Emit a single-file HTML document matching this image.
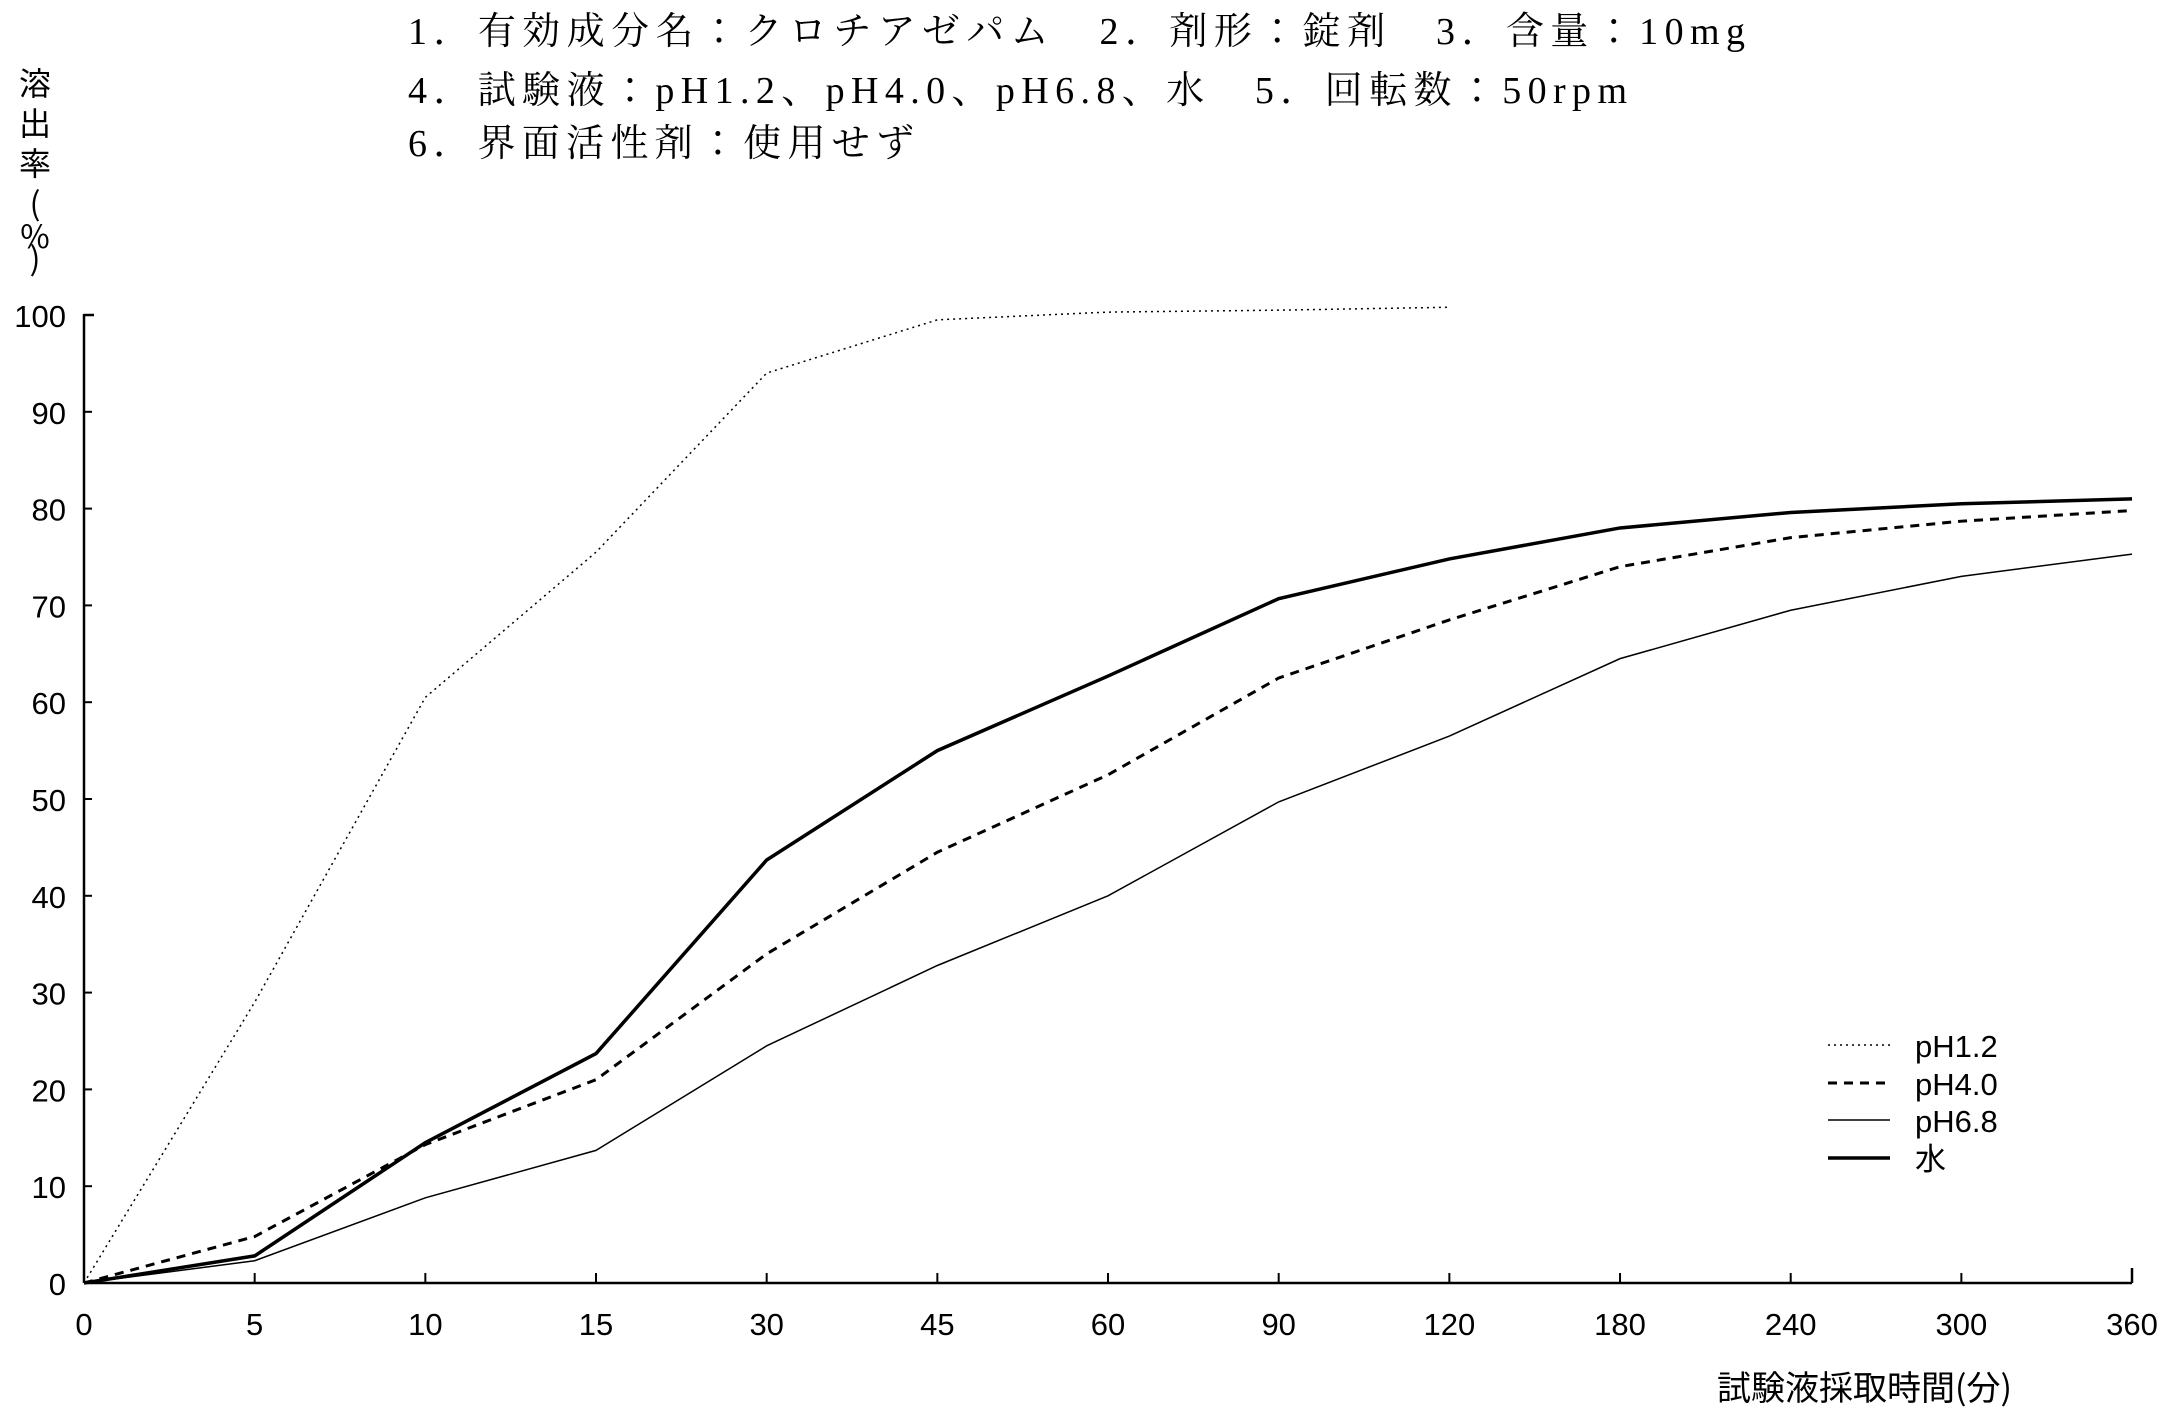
<!DOCTYPE html>
<html><head><meta charset="utf-8"><style>
html,body{margin:0;padding:0;background:#fff;}
svg{display:block}
.t{font-family:"Liberation Serif","Noto Serif CJK JP","Noto Serif CJK SC",serif;font-size:38px;fill:#000}
.a{font-family:"Liberation Sans","Noto Sans CJK JP",sans-serif;font-size:31px;fill:#000}
</style></head><body>
<svg width="2171" height="1417" viewBox="0 0 2171 1417" xmlns="http://www.w3.org/2000/svg">
<rect width="2171" height="1417" fill="#fff"/>
<text class="t" x="408" y="44" textLength="1337" lengthAdjust="spacing">1．有効成分名：クロチアゼパム　2．剤形：錠剤　3．含量：10mg</text>
<text class="t" x="408" y="103" textLength="1219" lengthAdjust="spacing">4．試験液：pH1.2、pH4.0、pH6.8、水　5．回転数：50rpm</text>
<text class="t" x="408" y="156" textLength="506" lengthAdjust="spacing">6．界面活性剤：使用せず</text>
<g class="a" text-anchor="middle">
<text x="35" y="95" style="font-family:'Noto Sans CJK JP',sans-serif;font-size:32px">溶</text>
<text x="35" y="135" style="font-family:'Noto Sans CJK JP',sans-serif;font-size:32px">出</text>
<text x="35" y="175" style="font-family:'Noto Sans CJK JP',sans-serif;font-size:32px">率</text>
<text x="35" y="215" style="font-family:'Noto Sans CJK JP',sans-serif;font-size:32px">(</text>
<text x="35" y="248" style="font-family:'Noto Sans CJK JP',sans-serif;font-size:32px">%</text>
<text x="35" y="270" style="font-family:'Noto Sans CJK JP',sans-serif;font-size:32px">)</text>
</g>
<g stroke="#000" stroke-width="2.5" fill="none">
<line x1="84" y1="314" x2="84" y2="1283"/>
<line x1="84" y1="315" x2="94" y2="315"/>
<line x1="84" y1="1283" x2="2132" y2="1283"/>
<line x1="2132" y1="1283" x2="2132" y2="1268"/>
</g>
<g stroke="#000" stroke-width="2" id="ticks"></g>
<g class="a" text-anchor="end" id="yl"></g>
<g class="a" text-anchor="middle" id="xl"></g>
<g fill="none" stroke="#000" id="series"></g>
<text class="a" x="1717" y="1400" style="font-family:'Noto Sans CJK JP',sans-serif;font-size:34px">試験液採取時間(分)</text>
<g stroke="#000">
<line x1="1828" y1="1045" x2="1890" y2="1045" stroke-width="1.5" stroke-dasharray="2,4"/>
<line x1="1828" y1="1083" x2="1890" y2="1083" stroke-width="3" stroke-dasharray="9,7"/>
<line x1="1828" y1="1120" x2="1890" y2="1120" stroke-width="1.5"/>
<line x1="1828" y1="1158" x2="1890" y2="1158" stroke-width="3.5"/>
</g>
<g class="a">
<text x="1915" y="1057">pH1.2</text>
<text x="1915" y="1095">pH4.0</text>
<text x="1915" y="1132">pH6.8</text>
<text x="1915" y="1170" style="font-family:'Noto Sans CJK JP',sans-serif">水</text>
</g>
</svg>
<script>
var NS="http://www.w3.org/2000/svg";
function X(i){return 84+i*170.67;}
function Y(v){return 1283-v*9.68;}
function el(p,t,a,txt){var e=document.createElementNS(NS,t);for(var k in a)e.setAttribute(k,a[k]);if(txt!=null)e.textContent=txt;document.getElementById(p).appendChild(e);}
var xs=["0","5","10","15","30","45","60","90","120","180","240","300","360"];
for(var i=0;i<13;i++){el("xl","text",{x:X(i),y:1335},xs[i]);if(i>0&&i<12)el("ticks","line",{x1:X(i),y1:1283,x2:X(i),y2:1273});}
for(var v=0;v<=100;v+=10){el("yl","text",{x:66,y:Y(v)+12},String(v));if(v>0&&v<100)el("ticks","line",{x1:84,y1:Y(v),x2:92,y2:Y(v)});}
var S=[
[[0,29,60.5,75.5,94,99.5,100.3,100.5,100.8],"1.5","2,4"],
[[0,4.8,14.3,21,34,44.5,52.5,62.5,68.5,74,77,78.7,79.8],"3","9,7"],
[[0,2.3,8.8,13.7,24.5,32.8,40,49.7,56.5,64.5,69.5,73,75.3],"1.5",""],
[[0,2.8,14.5,23.7,43.7,55,62.7,70.7,74.8,78,79.6,80.5,81],"3.5",""]];
S.forEach(function(s){var p=s[0].map(function(v,i){return X(i)+","+Y(v);}).join(" ");var a={points:p,"stroke-width":s[1]};if(s[2])a["stroke-dasharray"]=s[2];el("series","polyline",a);});
</script>
</body></html>
